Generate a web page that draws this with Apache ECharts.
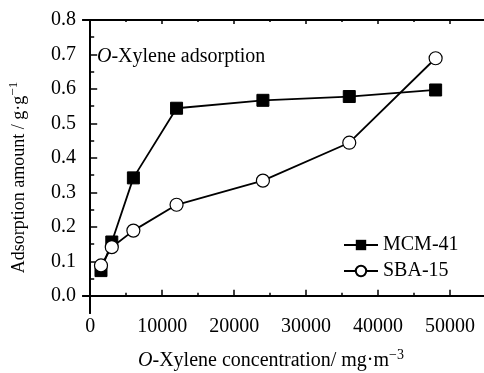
<!DOCTYPE html>
<html>
<head>
<meta charset="utf-8">
<script src="https://cdn.jsdelivr.net/npm/echarts@6/dist/echarts.min.js"></script>
<style>html,body{margin:0;padding:0;background:#fff}#c{width:484px;height:373px}</style>
</head>
<body>
<div id="c"></div>
<script>
const concentration = [1500, 3000, 6000, 12000, 24000, 36000, 48000];
const mcm41 = [0.073, 0.156, 0.342, 0.544, 0.567, 0.578, 0.597];
const sba15 = [0.088, 0.141, 0.189, 0.264, 0.334, 0.444, 0.689];
const xMajorTicks = [0, 10000, 20000, 30000, 40000, 50000];
const xMinorTicks = [5000, 15000, 25000, 35000, 45000];
const yMajorTicks = [0, 0.1, 0.2, 0.3, 0.4, 0.5, 0.6, 0.7, 0.8];
const yMinorTicks = [0.05, 0.15, 0.25, 0.35, 0.45, 0.55, 0.65, 0.75];
const seriesNames = ['MCM-41', 'SBA-15'];

const FONT = "'Liberation Serif', 'Times New Roman', serif";
const FS = 20;
const chart = echarts.init(document.getElementById('c'));
const axisLine = {show: true, lineStyle: {color: '#000', width: 2}};
const legendText = {color: '#000', fontFamily: FONT, fontSize: FS, fontWeight: 'normal'};
function xAx(pos, ticks, len, labels, extra) {
  return Object.assign({
    type: 'value', min: -1000, max: 55000, position: pos,
    axisLine: axisLine,
    axisTick: {show: true, inside: true, length: len, customValues: ticks, lineStyle: {color: '#000', width: 1.5}},
    axisLabel: labels ? {show: true, customValues: ticks, color: '#000', fontFamily: FONT, fontSize: FS, margin: 4,
      formatter: v => String(v)} : {show: false},
    splitLine: {show: false}
  }, extra || {});
}
function yAx(ticks, len, labels, extra) {
  return Object.assign({
    type: 'value', min: -0.05, max: 0.8, position: 'left',
    axisLine: axisLine,
    axisTick: {show: true, inside: true, length: len, customValues: ticks, lineStyle: {color: '#000', width: 1.5}},
    axisLabel: labels ? {show: true, customValues: ticks, color: '#000', fontFamily: FONT, fontSize: FS, margin: 7,
      formatter: v => v.toFixed(1)} : {show: false},
    splitLine: {show: false}
  }, extra || {});
}
chart.setOption({
  animation: false,
  backgroundColor: '#fff',
  grid: {left: 83, top: 20, width: 403, height: 293, containLabel: false, outerBoundsMode: 'none'},
  title: {
    text: '{i|O}-Xylene adsorption', left: 92, top: 42,
    textStyle: {color: '#000', fontFamily: FONT, fontSize: FS, fontWeight: 'normal',
      rich: {i: {fontStyle: 'italic', fontFamily: FONT, fontSize: FS, color: '#000'}}}
  },
  legend: {
    orient: 'vertical', left: 338, top: 230, itemWidth: 34, itemHeight: 13, itemGap: 6,
    textStyle: legendText,
    data: seriesNames.map(n => ({name: n, textStyle: legendText}))
  },
  xAxis: [
    xAx('bottom', xMajorTicks, 6, true, {
      name: '{i|O}-Xylene concentration/ mg·m{sup|−3}', nameLocation: 'middle', nameGap: 35,
      nameTextStyle: {color: '#000', fontFamily: FONT, fontSize: FS, padding: [0, 27, 0, 0],
        rich: {i: {fontStyle: 'italic', fontFamily: FONT, fontSize: FS, color: '#000'},
               sup: {fontFamily: FONT, fontSize: 14, color: '#000', padding: [0, 0, 12, 0]}}}
    }),
    xAx('bottom', xMinorTicks, 3, false),
    xAx('top', xMajorTicks, 4, false),
    xAx('top', xMinorTicks, 2, false)
  ],
  yAxis: [
    yAx(yMajorTicks, 7, true, {
      name: 'Adsorption amount / g·g{sup|−1}', nameLocation: 'middle', nameGap: 52,
      nameTextStyle: {color: '#000', fontFamily: FONT, fontSize: 18, padding: [0, 22, 0, 0],
        rich: {sup: {fontFamily: FONT, fontSize: 13, color: '#000', padding: [0, 0, 11, 0]}}}
    }),
    yAx(yMinorTicks, 4, false)
  ],
  series: [
    {
      name: seriesNames[0], type: 'line', xAxisIndex: 0, yAxisIndex: 0,
      data: concentration.map((x, i) => [x, mcm41[i]]),
      symbol: 'rect', symbolSize: 12,
      lineStyle: {color: '#000', width: 1.8},
      itemStyle: {color: '#000', borderColor: '#000'}
    },
    {
      name: seriesNames[1], type: 'line', xAxisIndex: 0, yAxisIndex: 0,
      data: concentration.map((x, i) => [x, sba15[i]]),
      symbol: 'circle', symbolSize: 13, z: 3,
      lineStyle: {color: '#000', width: 1.8},
      itemStyle: {color: '#fff', borderColor: '#000', borderWidth: 1.2}
    }
  ]
});
</script>
</body>
</html>
